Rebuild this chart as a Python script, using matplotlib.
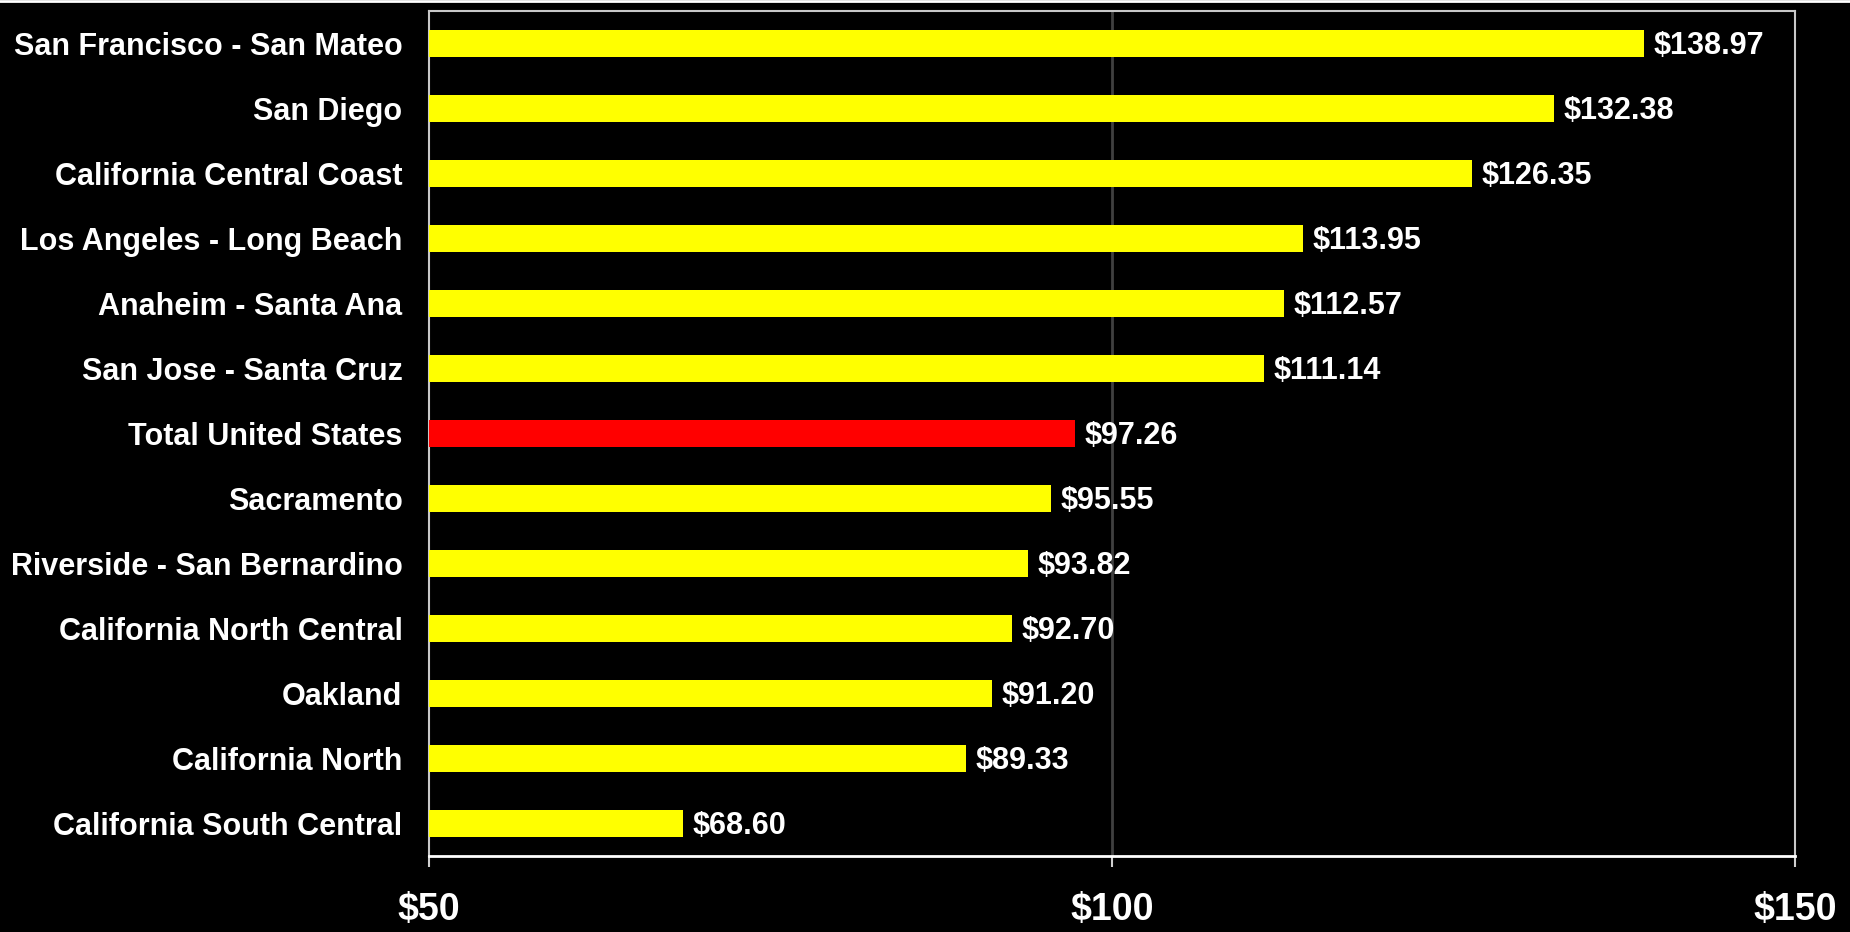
import matplotlib
matplotlib.use('Agg')
import matplotlib.pyplot as plt
from matplotlib.lines import Line2D

# markets, top to bottom as drawn
markets = ['San Francisco - San Mateo', 'San Diego', 'California Central Coast',
           'Los Angeles - Long Beach', 'Anaheim - Santa Ana', 'San Jose - Santa Cruz',
           'Total United States', 'Sacramento', 'Riverside - San Bernardino',
           'California North Central', 'Oakland', 'California North',
           'California South Central']
values = [138.97, 132.38, 126.35, 113.95, 112.57, 111.14, 97.26,
          95.55, 93.82, 92.70, 91.20, 89.33, 68.60]
highlight = 'Total United States'
xticks = [50, 100, 150]
xticklabels = ['$50', '$100', '$150']

plt.rcParams['font.family'] = ['Liberation Sans', 'DejaVu Sans']
plt.rcParams['font.weight'] = 'bold'

fig = plt.figure(figsize=(18.5, 9.32), dpi=100, facecolor='black')
ax = fig.add_axes([429 / 1850, 1 - 856 / 932, 1366 / 1850, 845 / 932])
ax.set_facecolor('black')

ypos = list(range(len(markets)))
colors = ['#ff0000' if m == highlight else '#ffff00' for m in markets]
# bars start at 50, so draw them from the left edge of the axis
ax.barh(ypos, [v - 50 for v in values], left=50, height=0.42, color=colors, zorder=3)

for y, v in zip(ypos, values):
    ax.text(v + 0.7, y + 0.04, '${:.2f}'.format(v), color='white', fontsize=22,
            fontweight='bold', va='center', ha='left', zorder=4)

ax.set_xlim(50, 150)
ax.set_ylim(len(markets) - 0.5, -0.5)
ax.set_yticks(ypos)
ax.set_yticklabels(markets, color='white', fontsize=22, fontweight='bold')
ax.tick_params(axis='y', length=0, pad=19)
ax.set_xticks(xticks)
ax.set_xticklabels(xticklabels, color='white', fontsize=27, fontweight='bold')
ax.tick_params(axis='x', length=8, width=1.5, color='#d0d0d0', direction='out', pad=18)

ax.axvline(100, color='#404040', lw=2, zorder=1)

for side in ['left', 'top', 'right']:
    ax.spines[side].set_color('#c8c8c8')
    ax.spines[side].set_linewidth(1.5)
ax.spines['bottom'].set_color('white')
ax.spines['bottom'].set_linewidth(2)

fig.add_artist(Line2D([0, 1], [0.999, 0.999], color='white', lw=2,
                      transform=fig.transFigure))

fig.savefig('out.png', dpi=100, facecolor='black')
